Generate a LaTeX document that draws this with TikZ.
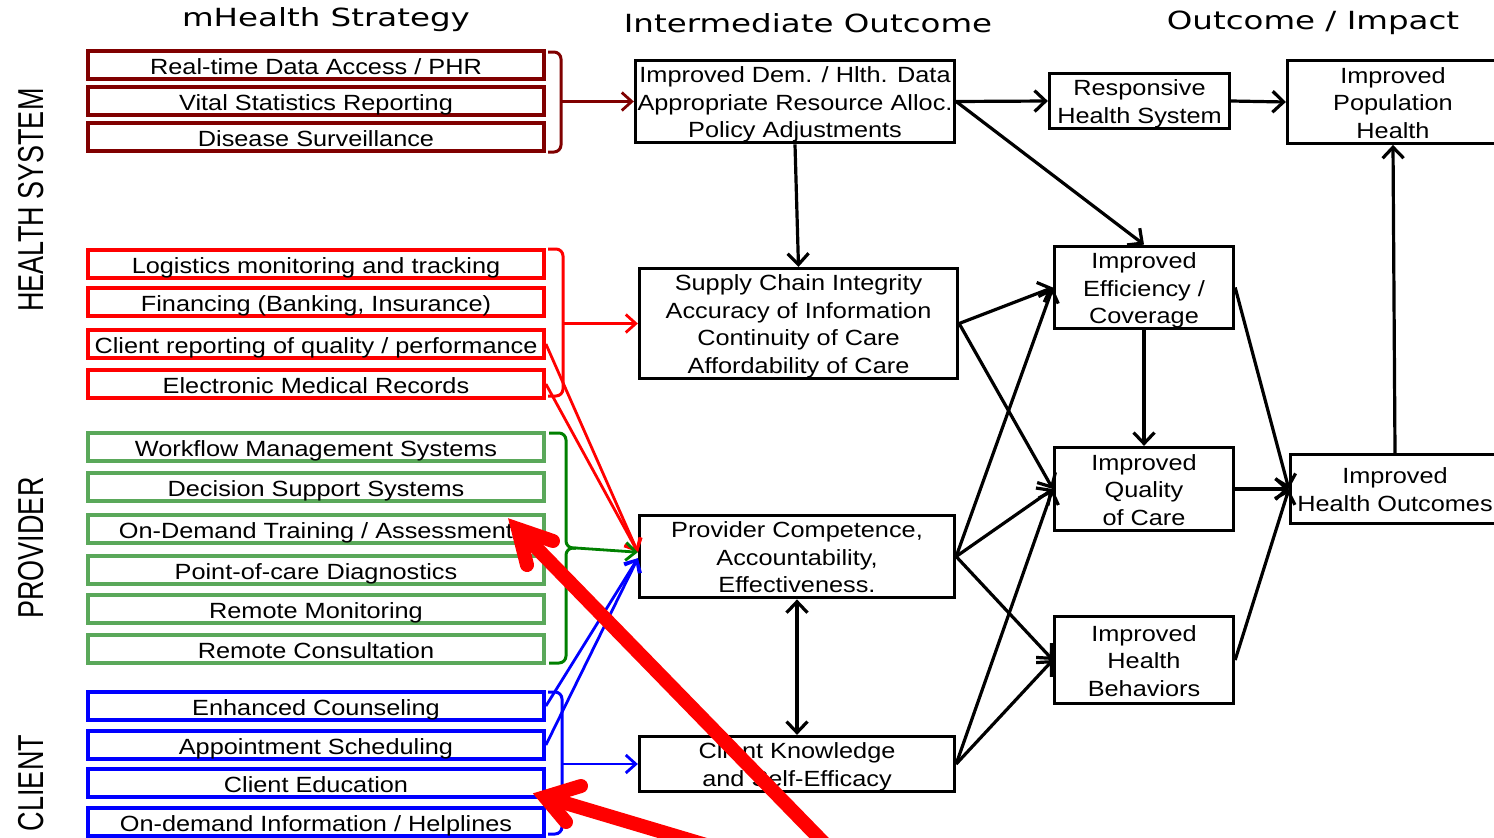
\documentclass[tikz,border=0pt]{standalone}
\usepackage{fontspec}
\usetikzlibrary{arrows.meta,calc}
\setmainfont{Liberation Sans}
\newfontfamily\bxfont[FakeStretch=1.15]{Liberation Sans}
\newfontfamily\hdfont[FakeStretch=1.3]{DejaVu Sans}
\newfontfamily\sdfont[FakeStretch=0.75]{Liberation Sans}
\definecolor{cMaroon}{RGB}{128,0,0}
\definecolor{cRed}{RGB}{255,0,0}
\definecolor{cGreen}{RGB}{90,168,90}
\definecolor{cDkGreen}{RGB}{0,128,0}
\definecolor{cBlue}{RGB}{0,0,255}
\newcommand\tstrut{\rule[-5pt]{0pt}{28pt}}
\newcommand\mlines[1]{\raisebox{-3pt}[\height][\depth]{\begin{tabular}{@{}c@{}}#1\end{tabular}}}
\begin{document}
\begin{tikzpicture}[x=1pt,y=-1pt,
  strat/.style={draw, line width=3.8pt, minimum width=456pt, minimum height=24pt,
    inner sep=0pt, fill=white, font=\bxfont\fontsize{22}{26}\selectfont,
    execute at begin node=\tstrut},
  outc/.style={draw, line width=3.3pt, inner sep=0pt, fill=white,
    font=\bxfont\fontsize{22}{27.5}\selectfont},
  hdr/.style={font=\hdfont\fontsize{25}{28}\selectfont, inner sep=0pt},
  side/.style={rotate=90, font=\sdfont\fontsize{36}{40}\selectfont, inner sep=0pt},
  arr/.style={line width=3.2pt, -{Straight Barb[length=11pt,width=21pt]}},
  darr/.style={line width=3.2pt, {Straight Barb[length=11pt,width=21pt]}-{Straight Barb[length=11pt,width=21pt]}},
  carr/.style={line width=2.8pt, -{Straight Barb[length=10pt,width=18pt]}},
  brk/.style={line width=3pt, rounded corners=7pt},
  big/.style={draw=cRed, line width=14pt}]
\useasboundingbox (0,0) rectangle (1494,838);
\clip (0,0) rectangle (1494,838);

% headers
\node[hdr] (h1) at (326,20) {mHealth Strategy};
\node[hdr] (h2) at (808,23) {Intermediate Outcome};
\node[hdr] (h3) at (1313,23) {Outcome / Impact};

% side labels
\node[side] (l1) at (31,200) {HEALTH SYSTEM};
\node[side] (l2) at (31,548) {PROVIDER};
\node[side] (l3) at (31,783) {CLIENT};

% strategy boxes
\node[strat, draw=cMaroon] (s1) at (316,65) {Real-time Data Access / PHR};
\node[strat, draw=cMaroon] (s2) at (316,101) {Vital Statistics Reporting};
\node[strat, draw=cMaroon] (s3) at (316,137) {Disease Surveillance};
\node[strat, draw=cRed] (s4) at (316,264) {Logistics monitoring and tracking};
\node[strat, draw=cRed] (s5) at (316,302) {Financing (Banking, Insurance)};
\node[strat, draw=cRed] (s6) at (316,344) {Client reporting of quality / performance};
\node[strat, draw=cRed] (s7) at (316,384) {Electronic Medical Records};
\node[strat, draw=cGreen] (s8) at (316,447) {Workflow Management Systems};
\node[strat, draw=cGreen] (s9) at (316,487) {Decision Support Systems};
\node[strat, draw=cGreen] (s10) at (316,529) {On-Demand Training / Assessment};
\node[strat, draw=cGreen] (s11) at (316,570) {Point-of-care Diagnostics};
\node[strat, draw=cGreen] (s12) at (316,609) {Remote Monitoring};
\node[strat, draw=cGreen] (s13) at (316,649) {Remote Consultation};
\node[strat, draw=cBlue] (s14) at (316,706) {Enhanced Counseling};
\node[strat, draw=cBlue] (s15) at (316,745) {Appointment Scheduling};
\node[strat, draw=cBlue] (s16) at (316,783) {Client Education};
\node[strat, draw=cBlue] (s17) at (316,822) {On-demand Information / Helplines};

% intermediate outcomes
\node[outc, minimum width=319pt, minimum height=82pt] (A) at (795,101.5)
  {\mlines{Improved Dem. / Hlth. Data\\Appropriate Resource Alloc.\\Policy Adjustments}};
\node[outc, minimum width=318pt, minimum height=110pt] (B) at (798.5,323.5)
  {\mlines{Supply Chain Integrity\\Accuracy of Information\\Continuity of Care\\Affordability of Care}};
\node[outc, minimum width=315pt, minimum height=82pt] (C) at (797,556.5)
  {\mlines{Provider Competence,\\Accountability,\\Effectiveness.}};
\node[outc, minimum width=315pt, minimum height=53pt] (D) at (797,764)
  {\mlines{Client Knowledge\\and Self-Efficacy}};

% outcomes
\node[outc, minimum width=180pt, minimum height=53pt] (E) at (1139.5,101)
  {\mlines{Responsive\\Health System}};
\node[outc, minimum width=179pt, minimum height=80pt] (F) at (1144,287.5)
  {\mlines{Improved\\Efficiency /\\Coverage}};
\node[outc, minimum width=179pt, minimum height=83pt] (G) at (1144,489)
  {\mlines{Improved\\Quality\\of Care}};
\node[outc, minimum width=179pt, minimum height=87pt] (H) at (1144,660)
  {\mlines{Improved\\Health\\Behaviors}};
\node[outc, minimum width=211pt, minimum height=77pt] (I) at (1393,102)
  {\mlines{Improved\\Population\\Health}};
\node[outc, minimum width=209pt, minimum height=69pt] (J) at (1395,489)
  {\mlines{Improved\\Health Outcomes}};

% brackets
\draw[brk, cMaroon] (548,52) -| (561,152) -- (548,152);
\draw[brk, cRed] (548,249) -| (563,396) -- (548,396);
\draw[brk, cDkGreen] (549,433) -| (566,548) -- (576,548);
\draw[brk, cDkGreen] (576,548) -| (566,663) -- (549,663);
\draw[brk, cBlue] (548,692) -| (562,834) -- (548,834);
\coordinate (mb) at (561,101.5);
\coordinate (rb) at (563,323.5);
\coordinate (gb) at (576,548);
\coordinate (bb) at (562,764);
\coordinate (cin) at ($(C.north west)!0.45!(C.south west)$);
\coordinate (cin2) at ($(C.north west)!0.52!(C.south west)$);

% coloured connectors
\draw[carr, cMaroon] (mb) -- (A.west);
\draw[carr, cRed] (rb) -- (B.west);
\draw[carr, cRed] (s6.east) -- (cin);
\draw[carr, cRed] (s7.east) -- (cin);
\draw[carr, cDkGreen] (gb) -- (cin);
\draw[carr, cBlue] (s14.east) -- (cin2);
\draw[carr, cBlue] (s15.east) -- (cin2);
\draw[carr, cBlue] (bb) -- (D.west);

% black connectors
\draw[arr] (A.south) -- (B.north);
\draw[arr] (A.east) -- (E.west);
\draw[arr] (A.east) -- (F.north);
\draw[arr] (E.east) -- (I.west);
\draw[arr] (B.east) -- (F.west);
\draw[arr] (B.east) -- (G.west);
\draw[arr] (C.east) -- (F.west);
\draw[arr] (C.east) -- (G.west);
\draw[arr] (C.east) -- (H.west);
\draw[arr] (D.east) -- (G.west);
\draw[arr] (D.east) -- (H.west);
\draw[arr] (F.south) -- (G.north);
\draw[arr] (F.east) -- (J.west);
\draw[arr] (G.east) -- (J.west);
\draw[arr] (H.east) -- (J.west);
\draw[arr] (J.north) -- (I.south);
\draw[darr] (C.south) -- (D.north);

% big red annotation arrows
\coordinate (t1) at (518,529);
\coordinate (t1a) at (553,541);
\coordinate (t1b) at (527,565);
\coordinate (t1e) at (860,880);
\draw[big, line cap=round, line join=miter] (t1a) -- (t1) -- (t1b);
\draw[big] (t1) -- (t1e);
\coordinate (t2) at (545,797);
\coordinate (t2a) at (581,786);
\coordinate (t2b) at (566,822);
\coordinate (t2e) at (800,873);
\draw[big, line cap=round, line join=miter] (t2a) -- (t2) -- (t2b);
\draw[big] (t2) -- (t2e);
\end{tikzpicture}
\end{document}
